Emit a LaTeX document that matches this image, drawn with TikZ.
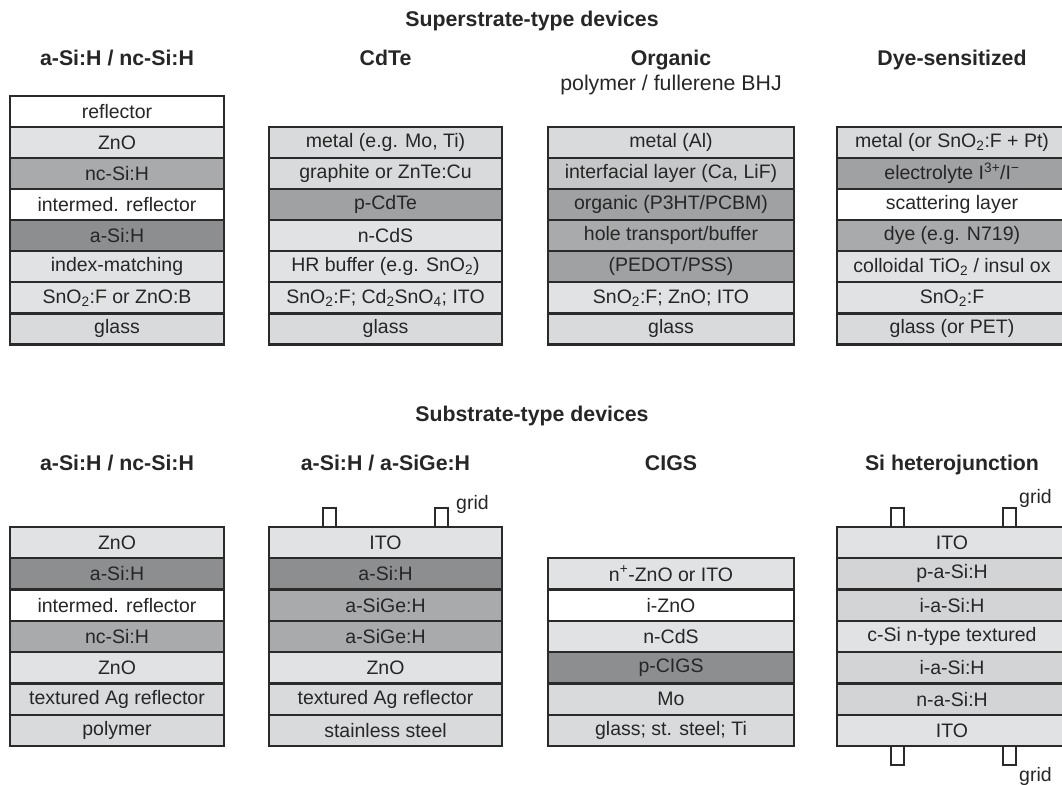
\documentclass[tikz,border=0pt]{standalone}
\usepackage{fontspec}
\setmainfont{Liberation Sans}

% layer fills
\definecolor{cWhite}{HTML}{FFFFFF}
\definecolor{cLight}{HTML}{E1E2E4}
\definecolor{cLightB}{HTML}{D9DADC}
\definecolor{cPale}{HTML}{D3D4D6}
\definecolor{cSoft}{HTML}{C6C7C9}
\definecolor{cMid}{HTML}{A9AAAC}
\definecolor{cMidD}{HTML}{A0A1A3}
\definecolor{cDark}{HTML}{8D8E90}
\definecolor{cEdge}{HTML}{2A2A2A}
\definecolor{cText}{HTML}{262626}

\tikzset{
  layer/.style={draw=cEdge, line width=2.3pt, inner sep=0pt, outer sep=0pt,
    text=cText, font=\fontsize{19.5}{22}\selectfont},
  grouptitle/.style={anchor=base, text=cText, font=\bfseries\fontsize{21.3}{24}\selectfont},
  coltitle/.style={anchor=base, text=cText, font=\bfseries\fontsize{21.3}{24}\selectfont},
  subtitle/.style={anchor=base, text=cText, font=\fontsize{21.3}{24}\selectfont},
  gridlbl/.style={anchor=base west, inner sep=0pt, text=cText, font=\fontsize{19.5}{22}\selectfont},
  tab/.style={draw=cEdge, line width=2.1pt, line join=miter},
}

% #1 name, #2 left, #3 right, #4 top, #5 row height, #6 fill/text list (top to bottom)
\newcommand\layerstack[6]{%
  \foreach \f/\t [count=\i] in {#6} {
    \node[layer, fill=\f, minimum width={#3-#2}, minimum height={#5}]
      (#1-\i) at ({(#2+#3)/2}, {#4+(\i-0.5)*#5}) {\t};
  }%
}

\newcommand\lsub[1]{\textsubscript{#1}}
\newcommand\lsup[1]{\textsuperscript{#1}}

\begin{document}
\begin{tikzpicture}[x=1pt, y=-1pt]
\useasboundingbox (0,0) rectangle (1062,784);

% ---------------- superstrate-type devices ----------------
\node[grouptitle] (supT) at (532,27) {Superstrate-type devices};

\node[coltitle] (t1) at (117,65.5) {a-Si:H / nc-Si:H};
\node[coltitle] (t2) at (385.5,65.5) {CdTe};
\node[coltitle] (t3) at (671,65.5) {Organic};
\node[subtitle] (t3s) at (671,90) {polymer / fullerene BHJ};
\node[coltitle] (t4) at (952,65.5) {Dye-sensitized};

\layerstack{a}{10}{224}{95.7}{31.1}{
  cWhite/{reflector},
  cLight/{ZnO},
  cMid/{nc-Si:H},
  cWhite/{intermed. reflector},
  cDark/{a-Si:H},
  cLight/{index-matching},
  cLight/{SnO\lsub{2}:F or ZnO:B},
  cLightB/{glass}}

\layerstack{b}{269}{502}{126.8}{31.1}{
  cLightB/{metal (e.g. Mo, Ti)},
  cLightB/{graphite or ZnTe:Cu},
  cMidD/{p-CdTe},
  cLight/{n-CdS},
  cLight/{HR buffer (e.g. SnO\lsub{2})},
  cLight/{SnO\lsub{2}:F; Cd\lsub{2}SnO\lsub{4}; ITO},
  cLightB/{glass}}

\layerstack{c}{548}{794}{126.8}{31.1}{
  cLightB/{metal (Al)},
  cSoft/{interfacial layer (Ca, LiF)},
  cMidD/{organic (P3HT/PCBM)},
  cMid/{hole transport/buffer},
  cMidD/{(PEDOT/PSS)},
  cLight/{SnO\lsub{2}:F; ZnO; ITO},
  cLightB/{glass}}

\layerstack{d}{837}{1067}{126.8}{31.1}{
  cLightB/{metal (or SnO\lsub{2}:F + Pt)},
  cMidD/{electrolyte I\lsup{3+}/I\lsup{\char"2212}},
  cWhite/{scattering layer},
  cMid/{dye (e.g. N719)},
  cLight/{colloidal TiO\lsub{2} / insul ox},
  cLight/{SnO\lsub{2}:F},
  cLightB/{glass (or PET)}}

% ---------------- substrate-type devices ----------------
\node[grouptitle] (subT) at (532,421) {Substrate-type devices};

\node[coltitle] (u1) at (117,470) {a-Si:H / nc-Si:H};
\node[coltitle] (u2) at (385.5,470) {a-Si:H / a-SiGe:H};
\node[coltitle] (u3) at (671,470) {CIGS};
\node[coltitle] (u4) at (952,470) {Si heterojunction};

\layerstack{e}{10}{224}{526.9}{31.3}{
  cLight/{ZnO},
  cDark/{a-Si:H},
  cWhite/{intermed. reflector},
  cMid/{nc-Si:H},
  cLight/{ZnO},
  cLightB/{textured Ag reflector},
  cLightB/{polymer}}

\layerstack{f}{269}{502}{526.9}{31.3}{
  cLight/{ITO},
  cDark/{a-Si:H},
  cMid/{a-SiGe:H},
  cMid/{a-SiGe:H},
  cLight/{ZnO},
  cLightB/{textured Ag reflector},
  cLightB/{stainless steel}}

\layerstack{g}{548}{794}{558.2}{31.3}{
  cLight/{n\lsup{+}-ZnO or ITO},
  cWhite/{i-ZnO},
  cLight/{n-CdS},
  cDark/{p-CIGS},
  cLightB/{Mo},
  cLightB/{glass; st. steel; Ti}}

\layerstack{h}{837}{1067}{526.9}{31.3}{
  cLight/{ITO},
  cPale/{p-a-Si:H},
  cPale/{i-a-Si:H},
  cLight/{c-Si n-type textured},
  cPale/{i-a-Si:H},
  cPale/{n-a-Si:H},
  cLight/{ITO}}

% contact grid fingers
\draw[tab] ([xshift=54pt]f-1.north west) -- ++(0,-19) -- ++(13,0) -- ++(0,19);
\draw[tab] ([xshift=166pt]f-1.north west) -- ++(0,-19) -- ++(13,0) -- ++(0,19);
\node[gridlbl] (fg) at (456,509) {grid};

\draw[tab] ([xshift=54pt]h-1.north west) -- ++(0,-19) -- ++(13,0) -- ++(0,19);
\draw[tab] ([xshift=166pt]h-1.north west) -- ++(0,-19) -- ++(13,0) -- ++(0,19);
\node[gridlbl] (hg1) at (1019,503) {grid};

\draw[tab] ([xshift=54pt]h-7.south west) -- ++(0,19) -- ++(13,0) -- ++(0,-19);
\draw[tab] ([xshift=166pt]h-7.south west) -- ++(0,19) -- ++(13,0) -- ++(0,-19);
\node[gridlbl] (hg2) at (1019,781) {grid};

\end{tikzpicture}
\end{document}
